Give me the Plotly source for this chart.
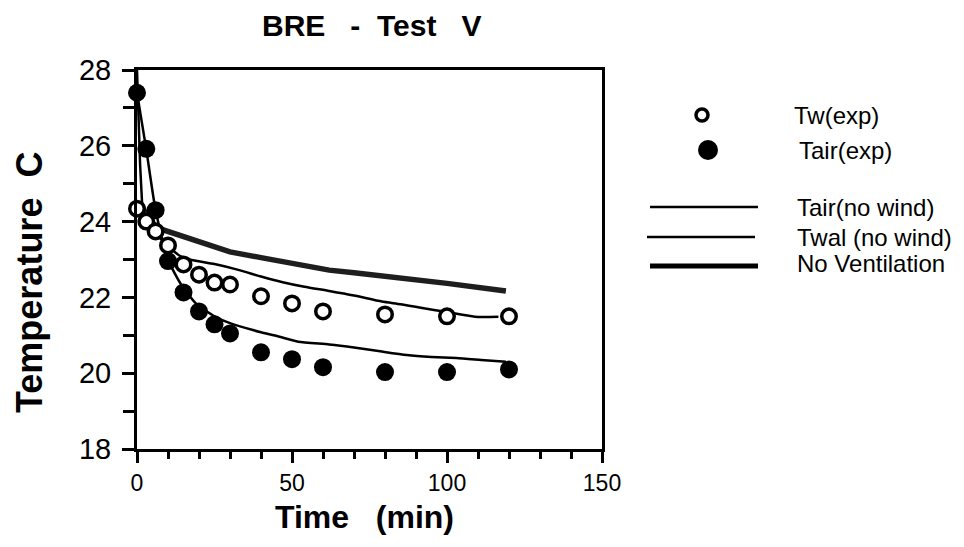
import plotly.graph_objects as go

# ---------------- data ----------------
time_exp = [0, 3, 6, 10, 15, 20, 25, 30, 40, 50, 60, 80, 100, 120]
tw_exp = [24.34, 24.0, 23.74, 23.37, 22.87, 22.6, 22.39, 22.34, 22.03, 21.84, 21.63, 21.55, 21.5, 21.5]
tair_exp = [27.4, 25.92, 24.3, 22.96, 22.13, 21.63, 21.29, 21.05, 20.55, 20.37, 20.16, 20.03, 20.03, 20.1]

time_tair_model = [0, 3, 6, 10, 14, 19, 25, 30, 40, 46, 52, 62, 70, 79, 87, 95, 103, 111, 119]
tair_model = [27.4, 25.9, 24.3, 23.0, 22.37, 21.84, 21.5, 21.32, 21.08, 20.96, 20.83, 20.76,
              20.68, 20.57, 20.48, 20.43, 20.40, 20.35, 20.30]

time_twal_model = [0, 1, 5, 8.5, 13.8, 17, 25, 33, 40, 47, 54, 62, 70, 79, 85, 92, 99.5, 109, 116.6]
twal_model = [24.34, 24.22, 23.8, 23.47, 23.1, 23.0, 22.88, 22.72, 22.55, 22.4, 22.28, 22.17,
              22.05, 21.89, 21.82, 21.72, 21.62, 21.49, 21.49]

time_novent_drop = [0, 0.3, 1.0, 1.7]
novent_drop = [28.0, 27.1, 25.5, 24.4]
time_novent = [1.7, 4, 8.5, 15, 20, 30, 40, 52, 62, 70, 84.5, 100, 119]
novent = [24.4, 24.0, 23.78, 23.6, 23.45, 23.2, 23.05, 22.88, 22.72, 22.65, 22.53, 22.37, 22.17]

x_ticks = [0, 50, 100, 150]
y_ticks = [18, 20, 22, 24, 26, 28]

legend_labels = ["Tw(exp)", "Tair(exp)", "Tair(no wind)", "Twal (no wind)", "No Ventilation"]

# ---------------- layout geometry (screen pixels) ----------------
OFF = 8                      # default page body margin
W, H = 964 - OFF, 547 - OFF  # figure size so that it fills the window
L, R, T, B = 137, 602, 70, 449   # plot area in screen pixels


def px(x):
    return (x - L) / (R - L)


def py(y):
    return (B - y) / (B - T)


FONT = "Liberation Sans, Arial, Helvetica, sans-serif"

fig = go.Figure()

# model lines
fig.add_trace(go.Scatter(x=time_novent_drop, y=novent_drop, mode="lines",
                         line=dict(color="black", width=2.5), showlegend=False, hoverinfo="skip"))
fig.add_trace(go.Scatter(x=time_novent, y=novent, mode="lines", name=legend_labels[4],
                         line=dict(color="#1e1e1e", width=5.5), showlegend=False))
fig.add_trace(go.Scatter(x=time_twal_model, y=twal_model, mode="lines", name=legend_labels[3],
                         line=dict(color="black", width=2.5, shape="spline", smoothing=0.6),
                         showlegend=False))
fig.add_trace(go.Scatter(x=time_tair_model, y=tair_model, mode="lines", name=legend_labels[2],
                         line=dict(color="black", width=2.5, shape="spline", smoothing=0.6),
                         showlegend=False))

# experimental points
fig.add_trace(go.Scatter(x=time_exp, y=tw_exp, mode="markers", name=legend_labels[0],
                         marker=dict(symbol="circle", size=14.5, color="white",
                                     line=dict(color="black", width=3.5)),
                         cliponaxis=False, showlegend=False))
fig.add_trace(go.Scatter(x=time_exp, y=tair_exp, mode="markers", name=legend_labels[1],
                         marker=dict(symbol="circle", size=18, color="black",
                                     line=dict(color="black", width=0)),
                         cliponaxis=False, showlegend=False))

axis_common = dict(
    showgrid=False, zeroline=False, showline=True, linecolor="black", linewidth=3,
    mirror=True, ticks="outside", tickcolor="black", tickwidth=3,
)

fig.update_xaxes(range=[0, 150], tickvals=x_ticks, ticklen=11,
                 tickfont=dict(family=FONT, size=23, color="black"),
                 ticklabelstandoff=0,
                 minor=dict(dtick=10, tick0=0, ticks="outside", ticklen=7, tickwidth=2.5,
                            tickcolor="black", showgrid=False),
                 **axis_common)
fig.update_yaxes(range=[18, 28], tickvals=y_ticks, ticklen=12,
                 tickfont=dict(family=FONT, size=29, color="black"),
                 ticklabelstandoff=5,
                 minor=dict(dtick=1, tick0=18, ticks="outside", ticklen=11, tickwidth=2.5,
                            tickcolor="black", showgrid=False),
                 **axis_common)

annotations = [
    dict(text="<b>BRE   -  Test   V</b>", x=px(371), y=py(25), xref="paper", yref="paper",
         showarrow=False, xanchor="center", yanchor="middle",
         font=dict(family=FONT, size=30, color="black")),
    dict(text="<b>Time   (min)</b>", x=px(364), y=py(517), xref="paper", yref="paper",
         showarrow=False, xanchor="center", yanchor="middle",
         font=dict(family=FONT, size=32, color="black")),
    dict(text="<b>Temperature  C</b>", x=px(29), y=py(283), xref="paper", yref="paper",
         showarrow=False, xanchor="center", yanchor="middle", textangle=-90,
         font=dict(family=FONT, size=36, color="black")),
]

legend_text_pos = [(792, 115), (797, 150), (795, 207), (795, 237), (795, 263)]
for lab, (lx, ly) in zip(legend_labels, legend_text_pos):
    annotations.append(dict(text=lab, x=px(lx), y=py(ly), xref="paper", yref="paper",
                            showarrow=False, xanchor="left", yanchor="middle",
                            font=dict(family=FONT, size=24, color="black")))

shapes = []
# legend symbols
shapes.append(dict(type="circle", xref="paper", yref="paper",
                   x0=px(702 - 6), x1=px(702 + 6), y0=py(115 + 6), y1=py(115 - 6),
                   line=dict(color="black", width=3.5), fillcolor="white"))
shapes.append(dict(type="circle", xref="paper", yref="paper",
                   x0=px(708 - 10), x1=px(708 + 10), y0=py(150 + 10), y1=py(150 - 10),
                   line=dict(color="black", width=0), fillcolor="black"))
for (x0, x1, yy, wdt) in [(650, 758, 207, 2.5), (647, 755, 237, 2.5), (650, 758, 266, 5)]:
    shapes.append(dict(type="line", xref="paper", yref="paper",
                       x0=px(x0), x1=px(x1), y0=py(yy), y1=py(yy),
                       line=dict(color="black", width=wdt)))

fig.update_layout(
    width=W, height=H,
    margin=dict(l=L - OFF, r=(W + OFF) - R, t=T - OFF, b=(H + OFF) - B, pad=0),
    paper_bgcolor="white", plot_bgcolor="white",
    showlegend=False,
    annotations=annotations, shapes=shapes,
    font=dict(family=FONT, color="black"),
)

fig.write_html("out.html")
